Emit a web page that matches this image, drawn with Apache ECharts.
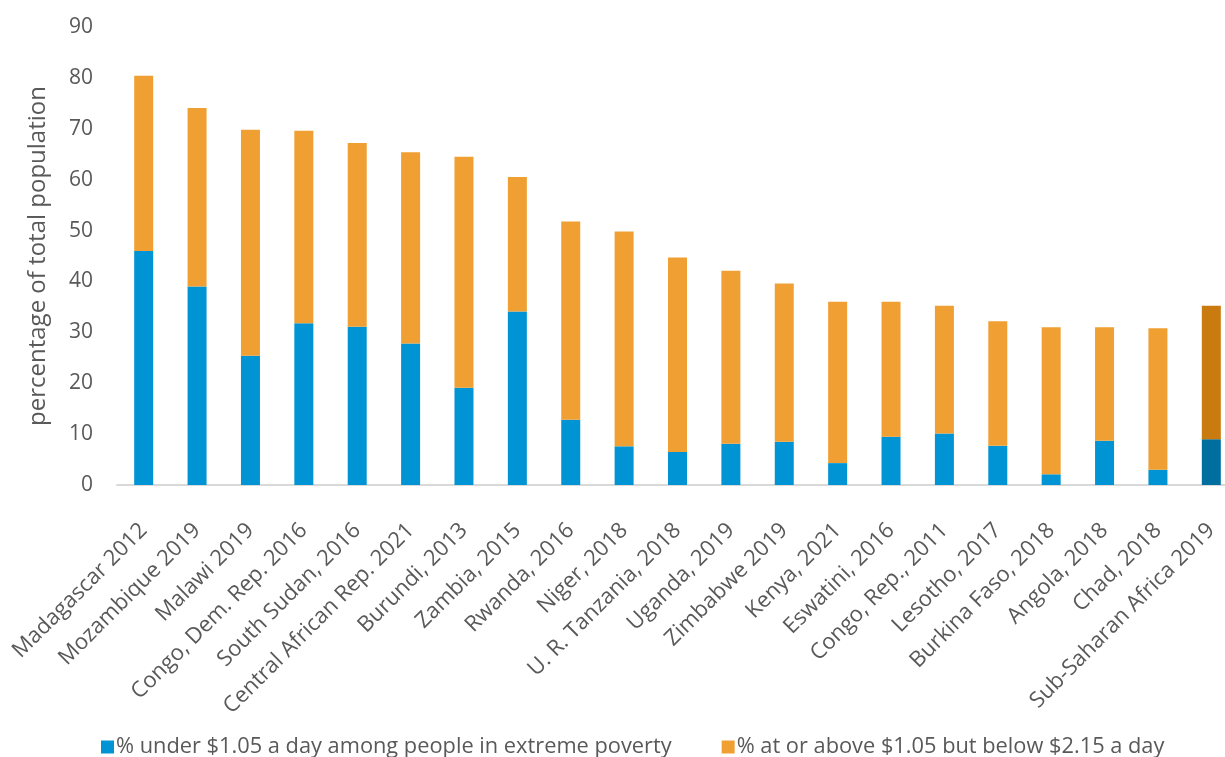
<!DOCTYPE html>
<html>
<head>
<meta charset="utf-8">
<script src="https://cdn.jsdelivr.net/npm/echarts@6/dist/echarts.min.js"></script>
<style>
html,body{margin:0;padding:0;background:#fff;overflow:hidden;}
#chart{width:1240px;height:757px;}
</style>
</head>
<body>
<div id="chart"></div>
<script>
const categories = ["Madagascar 2012","Mozambique 2019","Malawi 2019","Congo, Dem. Rep. 2016","South Sudan, 2016","Central African Rep. 2021","Burundi, 2013","Zambia, 2015","Rwanda, 2016","Niger, 2018","U. R. Tanzania, 2018","Uganda, 2019","Zimbabwe 2019","Kenya, 2021","Eswatini, 2016","Congo, Rep., 2011","Lesotho, 2017","Burkina Faso, 2018","Angola, 2018","Chad, 2018","Sub-Saharan Africa 2019"];
const under105 = [46.0,39.0,25.4,31.8,31.1,27.8,19.1,34.1,12.8,7.6,6.5,8.1,8.5,4.3,9.5,10.1,7.7,2.1,8.7,3.0,9.0];
const totals   = [80.4,74.1,69.8,69.6,67.2,65.4,64.5,60.5,51.8,49.8,44.7,42.1,39.6,36.0,36.0,35.2,32.2,31.0,31.0,30.8,35.2];
const between105and215 = totals.map((t,i)=>+(t-under105[i]).toFixed(1));
const seriesNames = ["% under $1.05 a day among people in extreme poverty","% at or above $1.05 but below $2.15 a day"];
const yTicks = [0,10,20,30,40,50,60,70,80,90];

const BLUE="#0094d4", ORANGE="#f0a032", BLUE_D="#006f9f", ORANGE_D="#c97b10";
const FONT="Open Sans";
const last = categories.length-1;
const chart = echarts.init(document.getElementById('chart'));
chart.setOption({
  animation:false,
  textStyle:{fontFamily:FONT},
  grid:{left:117,right:2,top:27,bottom:272,containLabel:false},
  legend:{
    bottom:-6, left:96,
    itemWidth:13,itemHeight:13,itemGap:50,icon:'rect',
    textStyle:{fontSize:21.8,color:'#595959',fontFamily:FONT,padding:[0,0,0,-3]},
    data:seriesNames
  },
  xAxis:{
    type:'category',data:categories,
    axisLine:{lineStyle:{color:'#d9d9d9',width:2}},
    axisTick:{show:false},
    axisLabel:{rotate:45,interval:0,fontSize:22,color:'#595959',margin:42,fontFamily:FONT}
  },
  yAxis:{
    type:'value',min:0,max:90,interval:10,
    name:'percentage of total population',nameLocation:'middle',nameGap:67,
    nameTextStyle:{fontSize:24,color:'#595959',fontFamily:FONT},
    axisLine:{show:false},axisTick:{show:false},splitLine:{show:false},
    axisLabel:{fontSize:21,color:'#595959',margin:24,fontFamily:FONT,
      formatter:v=>yTicks.includes(v)?String(v):''}
  },
  series:[
    {name:seriesNames[0],type:'bar',stack:'a',barWidth:19,
     itemStyle:{color:BLUE},
     data:under105.map((v,i)=>i===last?{value:v,itemStyle:{color:BLUE_D}}:v)},
    {name:seriesNames[1],type:'bar',stack:'a',barWidth:19,
     itemStyle:{color:ORANGE},
     data:between105and215.map((v,i)=>i===last?{value:v,itemStyle:{color:ORANGE_D}}:v)}
  ]
});
</script>
</body>
</html>
